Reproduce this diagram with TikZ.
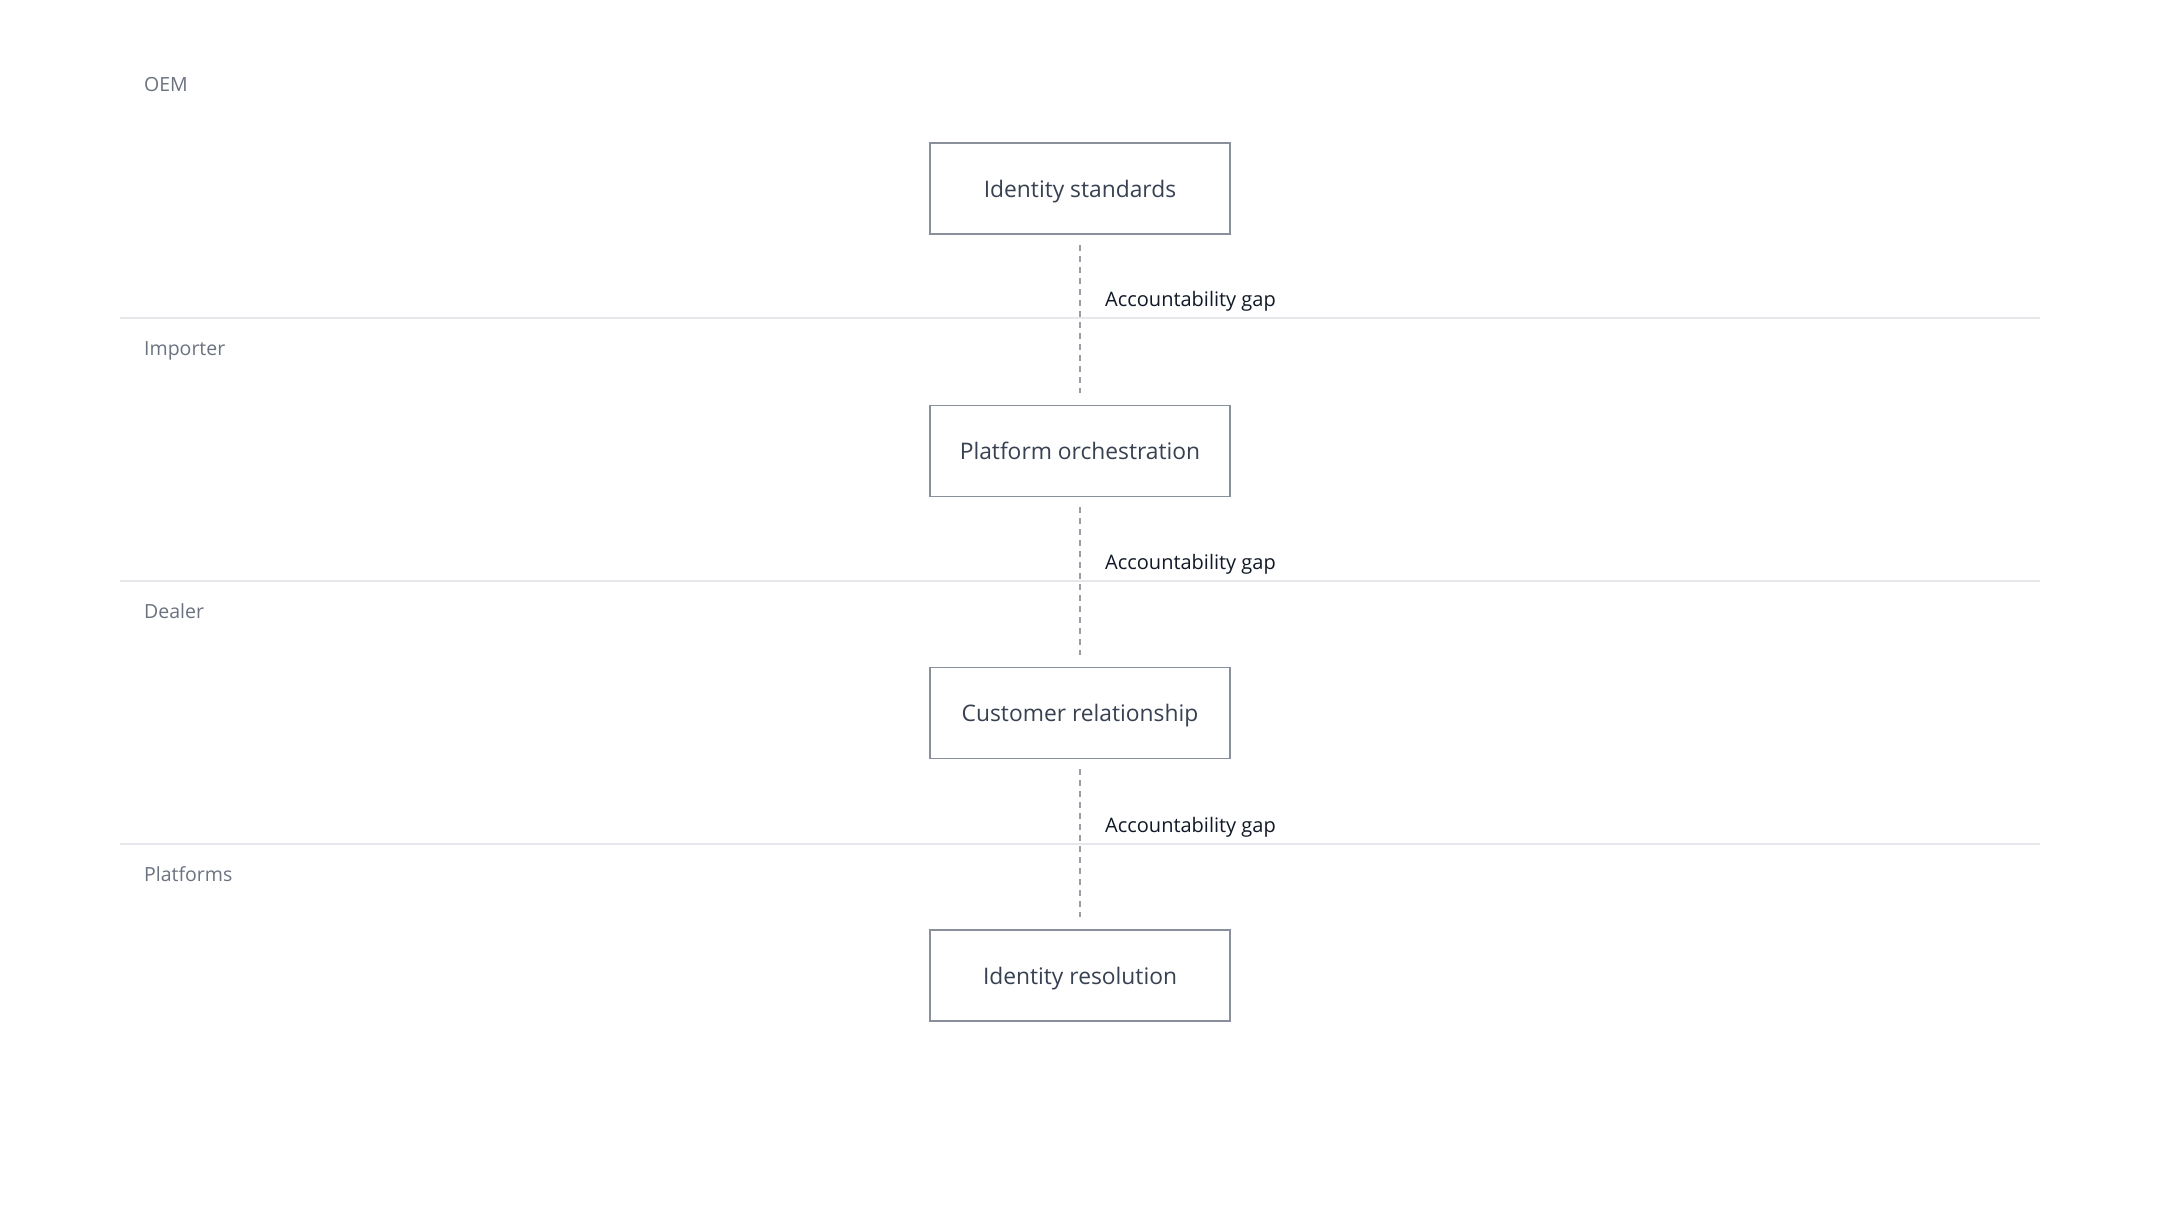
\documentclass[tikz,border=0pt]{standalone}
\usepackage{fontspec}
\setmainfont{Open Sans}
\definecolor{boxline}{HTML}{8A8F9C}
\definecolor{boxtext}{HTML}{374151}
\definecolor{lanetext}{HTML}{6B7280}
\definecolor{gaptext}{HTML}{111827}
\definecolor{sepline}{HTML}{E5E7EB}
\definecolor{dashline}{HTML}{9A9DA6}
\tikzset{
  stepbox/.style={draw=boxline, line width=1.5pt, fill=white, minimum width=300pt, minimum height=91pt, inner sep=0pt, text height=17pt, text depth=0pt, text=boxtext, font=\fontsize{22.8}{26}\selectfont},
  lanelabel/.style={anchor=base west, inner sep=0pt, text=lanetext, font=\fontsize{19.5}{23}\selectfont},
  gaplabel/.style={anchor=base west, inner sep=0pt, text=gaptext, font=\fontsize{20}{24}\selectfont},
  separator/.style={draw=sepline, line width=1.5pt},
  gapline/.style={draw=dashline, line width=2pt, dash pattern=on 6pt off 5pt, shorten <=10pt, shorten >=12pt},
}
\begin{document}
\begin{tikzpicture}[x=1pt,y=-1pt]
\useasboundingbox (0,0) rectangle (2160,1220);
\fill[white] (0,0) rectangle (2160,1220);
% separators
\coordinate (s1a) at (120,318); \coordinate (s1b) at (2040,318);
\coordinate (s2a) at (120,581); \coordinate (s2b) at (2040,581);
\coordinate (s3a) at (120,844); \coordinate (s3b) at (2040,844);
\draw[separator] (s1a) -- (s1b);
\draw[separator] (s2a) -- (s2b);
\draw[separator] (s3a) -- (s3b);
% lane labels
\node[lanelabel] (l1) at (144,92) {OEM};
\node[lanelabel] (l2) at (144,355) {Importer};
\node[lanelabel] (l3) at (144,618) {Dealer};
\node[lanelabel] (l4) at (144,881) {Platforms};
% boxes
\node[stepbox] (b1) at (1080,188.5) {Identity standards};
\node[stepbox] (b2) at (1080,450.8) {Platform orchestration};
\node[stepbox] (b3) at (1080,713.1) {Customer relationship};
\node[stepbox] (b4) at (1080,975.5) {Identity resolution};
% connectors
\draw[gapline] (b1.south) -- (b2.north);
\draw[gapline] (b2.south) -- (b3.north);
\draw[gapline] (b3.south) -- (b4.north);
% gap labels
\node[gaplabel] (g1) at (1105,306) {Accountability gap};
\node[gaplabel] (g2) at (1105,569) {Accountability gap};
\node[gaplabel] (g3) at (1105,832) {Accountability gap};
\end{tikzpicture}
\end{document}
